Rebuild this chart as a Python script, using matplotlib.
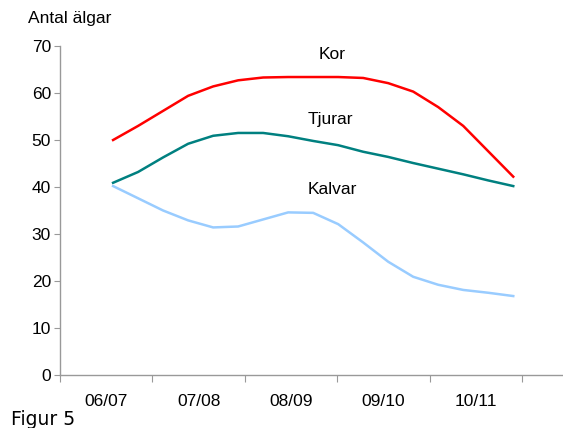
import matplotlib
matplotlib.use("Agg")
import matplotlib.pyplot as plt
import numpy as np

# kategorier och mätpunkter (i kategorienheter)
kategorier = ["06/07", "07/08", "08/09", "09/10", "10/11"]
x_punkter = [0.574 + k * 0.2705 for k in range(17)]

kor = [50.0, 53.0, 56.2, 59.4, 61.4, 62.7, 63.3, 63.4, 63.4, 63.4, 63.2, 62.1, 60.3, 57.0, 53.0, 47.6, 42.2]
tjurar = [40.9, 43.2, 46.3, 49.2, 50.9, 51.5, 51.5, 50.8, 49.8, 48.9, 47.5, 46.4, 45.1, 43.9, 42.7, 41.4, 40.2]
kalvar = [40.2, 37.6, 35.0, 32.9, 31.4, 31.6, 33.1, 34.6, 34.5, 32.1, 28.2, 24.1, 20.9, 19.2, 18.1, 17.5, 16.8]

plt.rcParams['font.family'] = ['Liberation Sans', 'DejaVu Sans']

fig = plt.figure(figsize=(5.63, 4.28), dpi=100)
ax = fig.add_axes([0.1066, 0.1238, 0.8934, 0.7687])

ax.plot(x_punkter, kor, color='#FF0000', lw=1.8)
ax.plot(x_punkter, tjurar, color='#008080', lw=1.8)
ax.plot(x_punkter, kalvar, color='#99CCFF', lw=1.8)

ax.text(2.94, 68.1, "Kor", ha='center', va='center', fontsize=12.5)
ax.text(2.92, 54.3, "Tjurar", ha='center', va='center', fontsize=12.5)
ax.text(2.94, 39.4, "Kalvar", ha='center', va='center', fontsize=12.5)

ax.set_xlim(0, 5.44)
ax.set_ylim(0, 70)
ax.set_yticks(range(0, 71, 10))
ax.set_xticks(range(6))
ax.set_xticklabels([])
ax.set_xticks([i + 0.5 for i in range(5)], minor=True)
ax.set_xticklabels(kategorier, minor=True)
ax.tick_params(axis='x', which='minor', length=0, pad=14, labelsize=12.5)
ax.tick_params(axis='x', which='major', length=5, color='#999999', direction='out')
ax.tick_params(axis='y', length=4, color='#999999', labelsize=12.5, pad=2.5)

for s in ['top', 'right']:
    ax.spines[s].set_visible(False)
for s in ['left', 'bottom']:
    ax.spines[s].set_color('#999999')
    ax.spines[s].set_linewidth(1.0)

fig.text(28 / 563, 1 - 18 / 428, "Antal älgar", ha='left', va='center', fontsize=12.5)
fig.text(11 / 563, 1 - 425 / 428, "Figur 5", ha='left', va='baseline', fontsize=13.5, family='DejaVu Sans')

fig.savefig("out.png", dpi=100)
